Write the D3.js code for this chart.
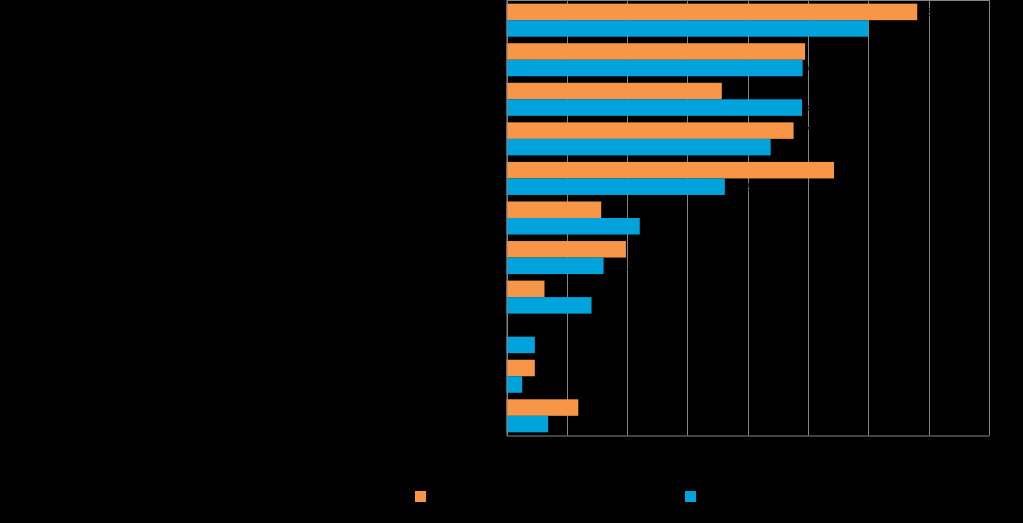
<!DOCTYPE html>
<html>
<head>
<meta charset="utf-8">
<script src="https://cdn.jsdelivr.net/npm/d3@7"></script>
<style>
  html, body { margin: 0; padding: 0; background: #000; }
  svg { display: block; }
  text { font-family: "Liberation Sans", Arial, sans-serif; }
</style>
</head>
<body>
<svg id="chart" width="1023" height="523"></svg>
<script>
// Data (text in the reference is black on black, so labels are drawn in black)
const categories = ["Category 1","Category 2","Category 3","Category 4","Category 5","Category 6",
                    "Category 7","Category 8","Category 9","Category 10","Category 11"];
const seriesNames = ["Series 1", "Series 2"];
const series1 = [68.1, 49.5, 35.7, 47.6, 54.3, 15.7, 19.8, 6.3, 0, 4.7, 11.9];
const series2 = [60.0, 49.1, 49.0, 43.8, 36.2, 22.1, 16.1, 14.1, 4.7, 2.6, 6.9];
const tickValues = [0, 10, 20, 30, 40, 50, 60, 70, 80];

const colors = ["#F79646", "#00A3DB"];
const svg = d3.select("#chart");
const plot = { left: 506.5, right: 989, top: 0.5, bottom: 435.5 };

const x = d3.scaleLinear().domain([0, 80]).range([plot.left, plot.right]);
const y = d3.scaleBand().domain(categories).range([plot.top, plot.bottom])
  .paddingInner(0.165).paddingOuter(0.08);
const ySub = d3.scaleBand().domain([0, 1]).range([0, y.bandwidth()]);

// gridlines
svg.append("g").selectAll("line").data(tickValues).join("line")
  .attr("x1", d => Math.round(x(d)) + 0.5).attr("x2", d => Math.round(x(d)) + 0.5)
  .attr("y1", plot.top).attr("y2", plot.bottom)
  .attr("stroke", "#858585").attr("stroke-width", 1);
// top border
svg.append("line").attr("x1", plot.left).attr("x2", plot.right + 0.5)
  .attr("y1", 0.5).attr("y2", 0.5).attr("stroke", "#858585");

// bars
const rows = categories.map((c, i) => ({ c, v: [series1[i], series2[i]] }));
const g = svg.append("g");
rows.forEach(r => {
  r.v.forEach((v, s) => {
    if (v <= 0) return;
    g.append("rect")
      .attr("x", x(0))
      .attr("y", y(r.c) + ySub(s))
      .attr("width", x(v) - x(0))
      .attr("height", ySub.bandwidth())
      .attr("fill", colors[s]);
    g.append("text")
      .attr("x", x(v) + 4).attr("y", y(r.c) + ySub(s) + ySub.bandwidth() / 2 + 4)
      .attr("font-size", 11).attr("fill", "#000")
      .text(v.toFixed(1));
  });
});

// axes
const xAxis = svg.append("g").attr("transform", `translate(0,${plot.bottom})`)
  .call(d3.axisBottom(x).tickValues(tickValues).tickSize(0).tickPadding(8));
xAxis.select(".domain").attr("stroke", "#858585");
xAxis.selectAll("text").attr("fill", "#000").attr("font-size", 12);

const yAxis = svg.append("g").attr("transform", `translate(${plot.left},0)`)
  .call(d3.axisLeft(y).tickSize(0).tickPadding(8));
yAxis.select(".domain").attr("stroke", "#858585");
yAxis.selectAll("text").attr("fill", "#000").attr("font-size", 12);

// legend
const legendX = [415, 685];
seriesNames.forEach((n, i) => {
  svg.append("rect").attr("x", legendX[i]).attr("y", 491)
    .attr("width", 11).attr("height", 11).attr("fill", colors[i]);
  svg.append("text").attr("x", legendX[i] + 16).attr("y", 501)
    .attr("font-size", 12).attr("fill", "#000").text(n);
});
</script>
</body>
</html>
